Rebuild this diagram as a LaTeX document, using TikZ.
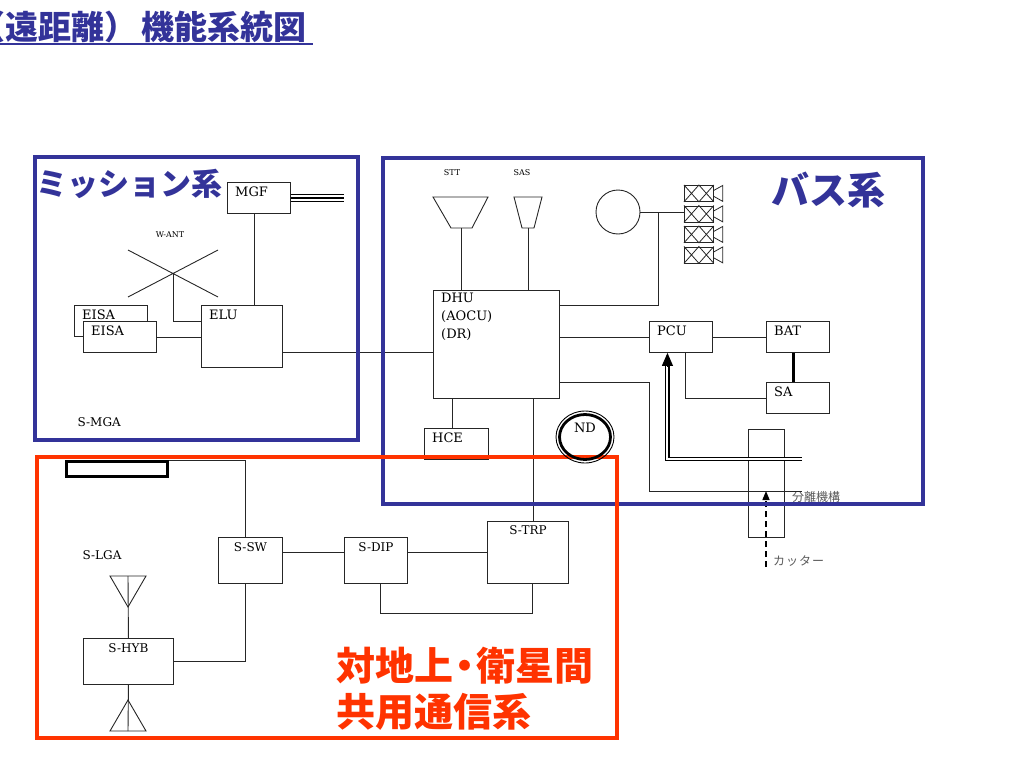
\documentclass[tikz,border=0pt]{standalone}
\usepackage{fontspec}
\setmainfont{DejaVu Serif}
\newfontfamily\cjk{Noto Sans CJK JP}
\usetikzlibrary{shapes.geometric,arrows.meta}
\definecolor{busblue}{RGB}{51,51,153}
\definecolor{comred}{RGB}{255,51,0}
\newcommand{\lblfont}{\fontsize{13}{18}\selectfont}
\newcommand{\slblfont}{\fontsize{12}{14}\selectfont}
\newcommand{\tinyfont}{\fontsize{8}{9}\selectfont}

\tikzset{
  unit/.style={draw=black!85, line width=0.9pt, anchor=north west, inner sep=0pt, fill=white},
  tag/.style={anchor=north west, inner xsep=8pt, inner ysep=5pt, font=\lblfont},
  stag/.style={anchor=north, inner sep=5pt, font=\slblfont},
  wire/.style={draw=black!85, line width=0.9pt},
  frame/.style={line width=4pt},
  bigjp/.style={anchor=base west, inner sep=0pt, font=\cjk\bfseries\fontsize{#1}{#1}\selectfont},
  smalljp/.style={anchor=west, inner sep=0pt, text=black!65, font=\cjk\fontsize{12}{12}\selectfont},
}

\begin{document}
\begin{tikzpicture}[x=1pt,y=-1pt]
  \useasboundingbox (0,0) rectangle (1024,768);

  \node[bigjp=33, text=busblue] (title) at (-27.5,40) {（遠距離）\hspace{4pt}機能系統図};
  \draw[busblue, line width=1.7pt] (0,44) -- (313,44);

  \node[unit, minimum width=63, minimum height=31, label={[tag]north west:MGF}] (mgf) at (227,182) {};
  \node[unit, minimum width=73, minimum height=31, label={[tag]north west:EISA}] (eisa1) at (74,305) {};
  \node[unit, minimum width=73, minimum height=31, label={[tag]north west:EISA}] (eisa2) at (83,321) {};
  \node[unit, minimum width=81, minimum height=62, label={[tag]north west:ELU}] (elu) at (201,305) {};
  \node[unit, minimum width=126, minimum height=108, label={[tag, inner ysep=3pt, align=left]north west:{DHU\\(AOCU)\\(DR)}}] (dhu) at (433,290) {};
  \node[unit, minimum width=63, minimum height=31, label={[tag]north west:PCU}] (pcu) at (649,321) {};
  \node[unit, minimum width=63, minimum height=31, label={[tag]north west:BAT}] (bat) at (766,321) {};
  \node[unit, minimum width=63, minimum height=31, label={[tag]north west:SA}] (sa) at (766,382) {};
  \node[unit, minimum width=64, minimum height=31, label={[tag]north west:HCE}] (hce) at (424,428) {};
  \node[unit, fill=none, minimum width=36, minimum height=108] (cut) at (748,429) {};
  \node[unit, minimum width=64, minimum height=46, label={[stag]north:S-SW}] (ssw) at (218,537) {};
  \node[unit, minimum width=63, minimum height=46, label={[stag]north:S-DIP}] (sdip) at (344,537) {};
  \node[unit, minimum width=81, minimum height=62, label={[stag, inner sep=4pt]north:S-TRP}] (strp) at (487,521) {};
  \node[unit, minimum width=90, minimum height=46, label={[stag]north:S-HYB}] (shyb) at (83,638) {};
  \node[unit, draw=black, line width=3pt, minimum width=101, minimum height=15] (smga) at (65,460) {};
  \node[draw=black!85, line width=0.9pt, circle, minimum size=44] (gyro) at (618,212) {};

  \foreach \i/\y in {1/185,2/205.5,3/226,4/246.5} {
    \node[unit, line width=0.8pt, minimum width=29, minimum height=16] (thr\i) at (684,\y) {};
    \draw[wire, line width=0.8pt] (thr\i.north west) -- (thr\i.south) -- (thr\i.north east)
      (thr\i.south west) -- (thr\i.north) -- (thr\i.south east);
    \draw[wire, line width=0.8pt] ([yshift=3pt]thr\i.east) -- ++(9,-5) -- ++(0,16) -- ++(-9,-5);
  }

  \node[font=\tinyfont] (wantl) at (170,235) {W-ANT};
  \node[font=\tinyfont] (sttl) at (452,173) {STT};
  \node[font=\tinyfont] (sasl) at (522,173) {SAS};
  \node[anchor=west, font=\slblfont] (smgal) at (74,422) {S-MGA};
  \node[font=\slblfont] (slgal) at (102,555) {S-LGA};
  \node[smalljp] (sepl) at (792,497) {分離機構};
  \node[smalljp] (cutl) at (773,561) {カ\hspace{1pt}ッ\hspace{1pt}タ\hspace{1pt}ー};

  \coordinate (want) at (173,273);
  \draw[wire] (128,250) -- (218,297) (128,297) -- (218,250);
  \coordinate (stt) at (461.5,228);
  \draw[wire] (433,197) -- (488,197) -- (472,228) -- (451,228) -- cycle;
  \coordinate (sas) at (528,228);
  \draw[wire] (514,197) -- (542,197) -- (534,228) -- (522,228) -- cycle;
  \coordinate (lgat) at (128,576);
  \draw[wire] (110,576) -- (146,576) -- (128,607) -- cycle;
  \coordinate (lgab) at (128,731);
  \draw[wire] (110,731) -- (146,731) -- (128,700) -- cycle;

  \draw[line width=1.8pt] ([yshift=3.5pt]mgf.east) -- ++(53,0);
  \draw[line width=1.8pt] (mgf.east) -- ++(53,0);
  \draw[line width=1.8pt] ([yshift=-3.5pt]mgf.east) -- ++(53,0);

  \draw[wire] ([xshift=-4.5pt]mgf.south) -- ([xshift=-4.5pt]mgf.south |- elu.north);
  \draw[wire] (want) |- ([yshift=-16pt]elu.north west);
  \draw[wire] (eisa2.east) -- (eisa2.east -| elu.west);
  \draw[wire] ([yshift=-16pt]elu.east) -- ([yshift=-16pt]elu.east -| dhu.west);
  \draw[wire] (stt) -- (stt |- dhu.north);
  \draw[wire] (sas) -- (sas |- dhu.north);
  \coordinate (j1) at (658,212);
  \draw[wire] (gyro.east) -- (gyro.east -| thr2.west);
  \draw[wire] ([yshift=-15pt]dhu.north east) -| (j1);
  \draw[wire] (pcu.west -| dhu.east) -- (pcu.west);
  \draw[wire] (pcu.east) -- (bat.west);
  \draw[line width=3pt] ([xshift=-4.5pt]bat.south) -- ([xshift=-4.5pt]sa.north);
  \draw[wire] ([xshift=4.5pt]pcu.south) |- (sa.west);
  \coordinate (sepa) at (802,459);
  \coordinate (sepb) at (802,491);
  \draw[draw=black, line width=1.3pt, double, double distance=2pt] (sepa) -| ([xshift=-13.5pt, yshift=-12pt]pcu.south);
  \draw[wire, draw=black, -{Triangle[length=13pt, width=11pt]}] ([xshift=-13.5pt, yshift=-14pt]pcu.south) -- ([xshift=-13.5pt]pcu.south);
  \coordinate (bend) at (649,491);
  \draw[wire] ([yshift=16pt]dhu.south east) -| (bend) -- (sepb);
  \coordinate (cutr) at (766,567);
  \draw[wire, draw=black, line width=1.4pt, dash pattern=on 6pt off 4pt, -{Triangle[length=9pt, width=7pt]}] (cutr) -- (cutr |- sepb);
  \draw[wire] ([xshift=-4pt]hce.north) -- ([xshift=-4pt]hce.north |- dhu.south);
  \draw[wire] ([xshift=5pt]strp.north) -- ([xshift=5pt]strp.north |- dhu.south);
  \draw[wire] ([yshift=8pt]ssw.east) -- ([yshift=8pt]ssw.east -| sdip.west);
  \draw[wire] ([yshift=8pt]sdip.east) -- ([yshift=8pt]sdip.east -| strp.west);
  \draw[wire] ([xshift=4.5pt]sdip.south) -- ++(0,30) -| ([xshift=4.5pt]strp.south);
  \draw[wire] (smga.north east) -| ([xshift=-5pt]ssw.north);
  \draw[wire] ([xshift=-5pt]ssw.south) |- (shyb.east);
  \draw[wire] (lgat) -- (shyb.north);
  \draw[wire] (shyb.south) -- (lgab);

  \draw[busblue, frame] (35,157) rectangle (358,440);
  \draw[busblue, frame] (383,158) rectangle (923,504);
  \draw[comred, frame] (37,457) rectangle (617,738);

  \node[draw=black, line width=0.9pt, ellipse, minimum width=58, minimum height=52] (nd) at (585,437) {};
  \draw[line width=2.8pt] (nd.center) ellipse [x radius=25.5, y radius=22.5];
  \node[font=\lblfont] (ndl) at ([yshift=9pt]nd.center) {ND};

  \node[bigjp=31, text=busblue] (misn) at (36,195) {ミッション系};
  \node[bigjp=38, text=busblue] (bus) at (771,204) {バス系};
  \node[bigjp=39, text=comred] (comm1) at (336,680) {対地上\kern-8pt・\kern-8pt衛星間};
  \node[bigjp=39, text=comred] (comm2) at (336,726) {共用通信系};
\end{tikzpicture}
\end{document}
